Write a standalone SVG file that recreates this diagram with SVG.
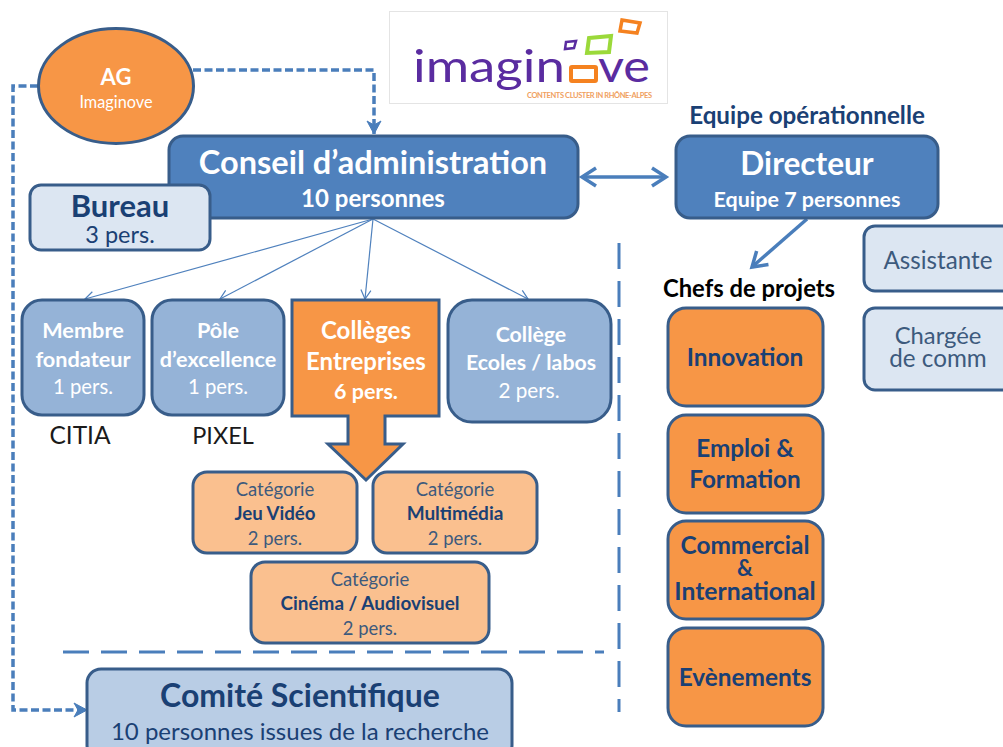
<svg xmlns="http://www.w3.org/2000/svg" width="1003" height="747" viewBox="0 0 1003 747">
<defs>
<marker id="open" markerWidth="12" markerHeight="12" refX="10" refY="6" orient="auto" markerUnits="userSpaceOnUse"><path d="M1 1L10 6L1 11" fill="none" stroke="#4f81bd" stroke-width="1.2"/></marker>
<marker id="dash" markerWidth="18" markerHeight="18" refX="15" refY="9" orient="auto" markerUnits="userSpaceOnUse"><path d="M2 2L15 9L2 16L6 9Z" fill="#4a7ebb" stroke="#4a7ebb" stroke-width="1"/></marker>
<marker id="big" markerWidth="24" markerHeight="24" refX="18" refY="12" orient="auto" markerUnits="userSpaceOnUse"><path d="M4 3L18 12L4 21" fill="none" stroke="#4a7ebb" stroke-width="3.5"/></marker>
<marker id="bigs" markerWidth="24" markerHeight="24" refX="6" refY="12" orient="auto" markerUnits="userSpaceOnUse"><path d="M20 3L6 12L20 21" fill="none" stroke="#4a7ebb" stroke-width="3.5"/></marker>
</defs>
<style>
text{font-family:Lato,"Liberation Sans",sans-serif;text-anchor:middle}
.b{font-weight:700}
.box{stroke:#385d8a;stroke-width:3}
.dark{fill:#4f81bd}
.mid{fill:#95b3d7}
.light{fill:#dce6f2}
.or{fill:#f79646}
.pe{fill:#fac08f}
.sci{fill:#b9cde5}
.w{fill:#fff}
.n{fill:#1a4074}
.g{fill:#3d5a7d}
.k{fill:#1a1a1a}
.dsh{fill:none;stroke:#4a7ebb;stroke-width:3.5;stroke-dasharray:8 3.5}
.sep{fill:none;stroke:#4a7ebb;stroke-width:3;stroke-dasharray:26 12}
.thin{fill:none;stroke:#4f81bd;stroke-width:1.2;marker-end:url(#open)}
.logo{font-family:Lato,sans-serif;fill:#5a2ca0}
</style>
<g id="logo">
<rect x="389.500" y="11.500" width="278" height="92" fill="#fff" stroke="#e4e4e4"/>
<text x="489" y="82" font-size="44" class="logo" textLength="152" lengthAdjust="spacingAndGlyphs">imagin</text>
<rect x="571" y="67" width="25" height="14" rx="1" fill="none" stroke="#f58220" stroke-width="4"/>
<text x="624" y="82" font-size="44" class="logo" textLength="52" lengthAdjust="spacingAndGlyphs">ve</text>
<path d="M566 42l10-1-2 7-9 1z" fill="none" stroke="#5a2ca0" stroke-width="2.500"/>
<path d="M589 38l22-2-2 16-22 1z" fill="none" stroke="#9bd93a" stroke-width="4"/>
<path d="M622 20l18 3-3 10-17-2z" fill="none" stroke="#f58220" stroke-width="3.500"/>
<text x="589.500" y="98" font-size="7.500" class="b" fill="#f0a060" textLength="125">CONTENTS CLUSTER IN RHÔNE-ALPES</text>
</g>
<g id="connectors">
<path class="dsh" d="M193 70H374V134" marker-end="url(#dash)"/>
<path class="dsh" d="M38 86H13V710H87" marker-end="url(#dash)"/>
<path class="thin" d="M373 219L85 299"/>
<path class="thin" d="M373 219L220 299"/>
<path class="thin" d="M373 219L365 299"/>
<path class="thin" d="M373 219L528 299"/>
<path d="M582 177H666" fill="none" stroke="#4a7ebb" stroke-width="3.500" marker-start="url(#bigs)" marker-end="url(#big)"/>
<path d="M807 219L752 267" fill="none" stroke="#4a7ebb" stroke-width="3.500" marker-end="url(#big)"/>
<path class="sep" d="M63 652H604"/>
<path class="sep" d="M619 243V712"/>
</g>
<g id="ag"><ellipse class="or" cx="116" cy="86" rx="77.500" ry="57.500" stroke="#385d8a" stroke-width="3"/>
<text x="116" y="85" font-size="22" class="b w">AG</text><text x="116" y="108" font-size="16.300" class="w">Imaginove</text></g>
<g id="conseil"><rect class="box dark" x="169" y="136" width="409" height="82" rx="14"/>
<text x="373" y="174" font-size="32.500" class="b w">Conseil d’administration</text><text x="373" y="207" font-size="24" class="b w">10 personnes</text></g>
<g id="bureau"><rect class="box light" x="30" y="185" width="180" height="65" rx="11"/>
<text x="120" y="217" font-size="31" class="b n">Bureau</text><text x="120" y="243" font-size="23.500" class="n">3 pers.</text></g>
<g id="directeur"><rect class="box dark" x="676" y="136" width="262" height="82" rx="14"/>
<text x="807" y="175" font-size="31.600" class="b w">Directeur</text><text x="807" y="207" font-size="21.500" class="b w">Equipe 7 personnes</text></g>
<text x="807" y="124" font-size="24.200" class="b n" id="equipe">Equipe opérationnelle</text>
<g id="membre"><rect class="box mid" x="22" y="300" width="122" height="115" rx="20"/>
<text x="83" y="338" font-size="21.700" class="b w">Membre</text><text x="83" y="367" font-size="21.700" class="b w">fondateur</text><text x="83" y="394" font-size="20.300" class="w">1 pers.</text></g>
<g id="pole"><rect class="box mid" x="152" y="300" width="132" height="115" rx="20"/>
<text x="218" y="338" font-size="21.600" class="b w">Pôle</text><text x="218" y="367" font-size="21.600" class="b w">d’excellence</text><text x="218" y="394" font-size="20.300" class="w">1 pers.</text></g>
<text x="80" y="444" font-size="24.500" class="k" id="citia">CITIA</text>
<text x="223" y="444" font-size="23.500" class="k" id="pixel">PIXEL</text>
<g id="colleges"><path class="or" stroke="#385d8a" stroke-width="3" d="M292 300H439V416H385V444H403L366 480L328 444H348V416H292Z"/>
<text x="366" y="339" font-size="24" class="b w">Collèges</text><text x="366" y="370" font-size="24" class="b w">Entreprises</text><text x="366" y="399" font-size="21.500" class="b w">6 pers.</text></g>
<g id="ecoles"><rect class="box mid" x="448" y="300" width="163" height="122" rx="24"/>
<text x="531" y="342" font-size="21.300" class="b w">Collège</text><text x="531" y="370" font-size="21.300" class="b w">Ecoles / labos</text><text x="529" y="398" font-size="20.700" class="w">2 pers.</text></g>
<g id="jeu"><rect class="box pe" x="193" y="472" width="164" height="81" rx="14"/>
<text x="275" y="496" font-size="18.500" class="g">Catégorie</text><text x="275" y="520" font-size="18.700" class="b n">Jeu Vidéo</text><text x="275" y="545" font-size="18.400" class="g">2 pers.</text></g>
<g id="multi"><rect class="box pe" x="373" y="472" width="164" height="81" rx="14"/>
<text x="455" y="496" font-size="18.500" class="g">Catégorie</text><text x="455" y="520" font-size="19" class="b n">Multimédia</text><text x="455" y="545" font-size="18.400" class="g">2 pers.</text></g>
<g id="cinema"><rect class="box pe" x="251" y="562" width="238" height="81" rx="14"/>
<text x="370" y="586" font-size="18.500" class="g">Catégorie</text><text x="370" y="610" font-size="18.900" class="b n">Cinéma / Audiovisuel</text><text x="370" y="635" font-size="18.400" class="g">2 pers.</text></g>
<g id="comite"><rect class="box sci" x="87" y="669" width="425" height="90" rx="14"/>
<text x="300" y="707" font-size="32" class="b n">Comité Scientifique</text><text x="300" y="740" font-size="24" class="n">10 personnes issues de la recherche</text></g>
<text x="749" y="297" font-size="23.800" class="b" fill="#000" id="chefs">Chefs de projets</text>
<g id="innovation"><rect class="box or" x="668" y="308" width="155" height="98" rx="18"/><text x="745" y="366" font-size="24.400" class="b n">Innovation</text></g>
<g id="emploi"><rect class="box or" x="668" y="415" width="155" height="98" rx="18"/><text x="745" y="457" font-size="24.300" class="b n">Emploi &amp;</text><text x="745" y="488" font-size="24.300" class="b n">Formation</text></g>
<g id="commercial"><rect class="box or" x="668" y="521" width="155" height="98" rx="18"/><text x="745" y="554" font-size="24.400" class="b n">Commercial</text><text x="745" y="576" font-size="22" class="b n">&amp;</text><text x="745" y="600" font-size="24.700" class="b n">International</text></g>
<g id="evenements"><rect class="box or" x="668" y="628" width="155" height="98" rx="18"/><text x="745" y="686" font-size="24.400" class="b n">Evènements</text></g>
<g id="assistante"><rect class="box light" x="864" y="226" width="160" height="65" rx="11"/><text x="938" y="269" font-size="24.200" class="g">Assistante</text></g>
<g id="chargee"><rect class="box light" x="864" y="308" width="160" height="82" rx="11"/><text x="938" y="344" font-size="23.800" class="g">Chargée</text><text x="938" y="367" font-size="24.200" class="g">de comm</text></g>
</svg>
